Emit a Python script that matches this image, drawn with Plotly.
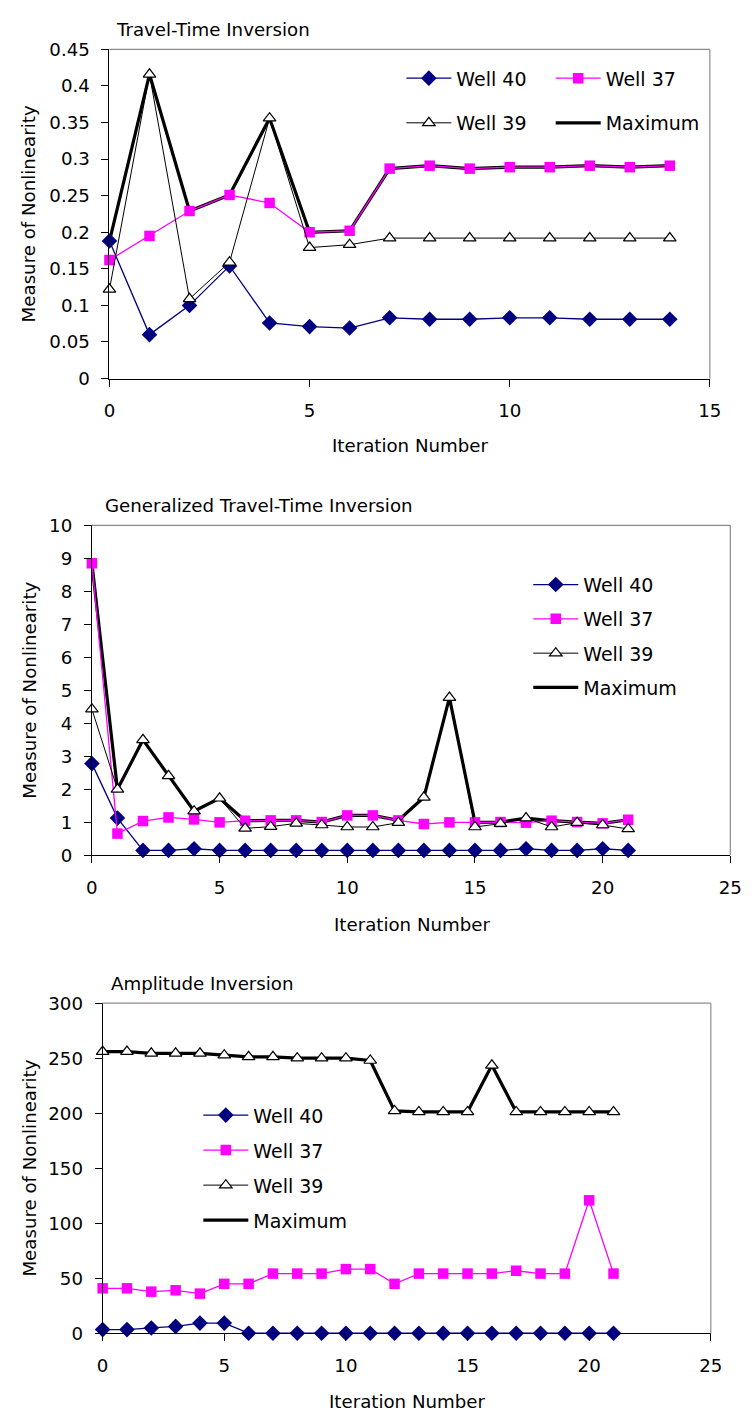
import plotly.graph_objects as go

# ---- data -------------------------------------------------------------
# Travel-time inversion (iterations 0-14)
tt_iter = list(range(15))
tt_well40 = [0.188, 0.060, 0.100, 0.154, 0.076, 0.071, 0.069, 0.083, 0.081,
             0.081, 0.083, 0.083, 0.081, 0.081, 0.081]
tt_well37 = [0.162, 0.195, 0.229, 0.251, 0.240, 0.200, 0.202, 0.287, 0.291,
             0.287, 0.289, 0.289, 0.291, 0.289, 0.291]
tt_well39 = [0.122, 0.416, 0.109, 0.159, 0.356, 0.179, 0.183, 0.192, 0.192,
             0.192, 0.192, 0.192, 0.192, 0.192, 0.192]
tt_max = [0.188, 0.416, 0.229, 0.251, 0.356, 0.200, 0.202, 0.287, 0.291,
          0.287, 0.289, 0.289, 0.291, 0.289, 0.291]

# Generalized travel-time inversion (iterations 0-21)
gt_iter = list(range(22))
gt_well40 = [2.78, 1.13, 0.15, 0.15, 0.20, 0.15, 0.15, 0.15, 0.15, 0.15, 0.15,
             0.15, 0.15, 0.15, 0.15, 0.15, 0.15, 0.20, 0.15, 0.15, 0.20, 0.15]
gt_well37 = [8.85, 0.66, 1.04, 1.15, 1.09, 1.00, 1.05, 1.06, 1.06, 1.01, 1.21,
             1.21, 1.06, 0.95, 1.00, 1.00, 1.01, 0.99, 1.05, 1.01, 0.97, 1.08]
gt_well39 = [4.43, 2.00, 3.50, 2.41, 1.34, 1.73, 0.82, 0.87, 0.97, 0.92, 0.86,
             0.86, 0.99, 1.76, 4.78, 0.86, 0.96, 1.13, 0.86, 0.99, 0.92, 0.80]
gt_max = [8.85, 2.00, 3.50, 2.41, 1.34, 1.73, 1.05, 1.06, 1.06, 1.01, 1.21,
          1.21, 1.06, 1.76, 4.78, 1.00, 1.01, 1.13, 1.05, 1.01, 0.97, 1.08]

# Amplitude inversion (iterations 0-21)
am_iter = list(range(22))
am_well40 = [3.3, 3.3, 4.8, 6.2, 9.2, 9.2, 0, 0, 0, 0, 0,
             0, 0, 0, 0, 0, 0, 0, 0, 0, 0, 0]
am_well37 = [40.8, 40.8, 37.8, 39.0, 36.0, 44.9, 44.9, 54.2, 54.2, 54.2, 58.3,
             58.3, 44.9, 54.2, 54.2, 54.2, 54.2, 56.8, 54.2, 54.2, 120.8, 54.2]
am_well39 = [256.0, 256.0, 254.4, 254.4, 254.4, 252.7, 251.2, 251.2, 250.0, 250.0, 250.0,
             247.9, 202.1, 201.2, 201.2, 201.2, 243.5, 201.2, 201.2, 201.2, 201.2, 201.2]
am_max = [256.0, 256.0, 254.4, 254.4, 254.4, 252.7, 251.2, 251.2, 250.0, 250.0, 250.0,
          247.9, 202.1, 201.2, 201.2, 201.2, 243.5, 201.2, 201.2, 201.2, 201.2, 201.2]

panel_titles = ["Travel-Time Inversion", "Generalized Travel-Time Inversion",
                "Amplitude Inversion"]
x_title = "Iteration Number"
y_title = "Measure of Nonlinearity"

# ---- layout geometry (pixels) -----------------------------------------
W, H = 756, 1425
FONT = "DejaVu Sans"
FS = 18.2
NAVY = "#000080"
MAGENTA = "#FF00FF"


def xdom(left, right):
    return [left / W, right / W]


def ydom(top, bottom):
    return [1 - bottom / H, 1 - top / H]


def px(x):
    return x / W


def py(y):
    return 1 - y / H


# (x-left, x-right, y-top, y-bottom) of each plotting area
boxes = [(106, 721, 39, 373), (88, 742, 522, 857), (99, 722, 1007, 1342)]

fig = go.Figure()


def add_panel(k, iters, w40, w37, w39, wmax, legs):
    xa = "x" if k == 1 else f"x{k}"
    ya = "y" if k == 1 else f"y{k}"
    common = dict(x=iters, xaxis=xa, yaxis=ya, cliponaxis=False)
    # thick maximum curve goes underneath the individual wells
    fig.add_trace(go.Scatter(y=wmax, name="Maximum", mode="lines",
                             line=dict(color="black", width=3.2),
                             legend=legs[3], legendrank=4, legendgroup=f"m{k}",
                             **common))
    fig.add_trace(go.Scatter(y=w40, name="Well 40", mode="lines+markers",
                             line=dict(color=NAVY, width=1.3),
                             marker=dict(symbol="diamond", size=12, color=NAVY),
                             legend=legs[0], legendrank=1, legendgroup=f"a{k}",
                             **common))
    fig.add_trace(go.Scatter(y=w37, name="Well 37", mode="lines+markers",
                             line=dict(color=MAGENTA, width=1.3),
                             marker=dict(symbol="square", size=10.5, color=MAGENTA),
                             legend=legs[1], legendrank=2, legendgroup=f"b{k}",
                             **common))
    fig.add_trace(go.Scatter(y=w39, name="Well 39", mode="lines+markers",
                             line=dict(color="black", width=1),
                             marker=dict(symbol="triangle-up", size=11, color="white",
                                         line=dict(color="black", width=1.2)),
                             legend=legs[2], legendrank=3, legendgroup=f"c{k}",
                             **common))


add_panel(1, tt_iter, tt_well40, tt_well37, tt_well39, tt_max,
          ["legend", "legend2", "legend", "legend2"])
add_panel(2, gt_iter, gt_well40, gt_well37, gt_well39, gt_max,
          ["legend3"] * 4)
add_panel(3, am_iter, am_well40, am_well37, am_well39, am_max,
          ["legend4"] * 4)

axis_font = dict(family=FONT, size=FS, color="black")
x_ranges = [[0, 15], [0, 25], [0, 25]]
y_ranges = [[0, 0.45], [0, 10], [0, 300]]
y_dticks = [0.05, 1, 50]

layout = dict(
    width=W, height=H,
    margin=dict(l=0, r=0, t=0, b=0),
    paper_bgcolor="white", plot_bgcolor="white",
    font=dict(family=FONT, size=FS, color="black"),
    showlegend=True,
    shapes=[], annotations=[],
)

for i, (l, r, t, b) in enumerate(boxes):
    k = i + 1
    xn = "xaxis" if k == 1 else f"xaxis{k}"
    yn = "yaxis" if k == 1 else f"yaxis{k}"
    ya = "y" if k == 1 else f"y{k}"
    xa = "x" if k == 1 else f"x{k}"
    layout[xn] = dict(domain=xdom(l, r), anchor=ya, range=x_ranges[i],
                      dtick=5, tick0=0, showgrid=False, zeroline=False,
                      showline=True, linecolor="black", linewidth=1,
                      ticks="outside", ticklen=7, tickcolor="black",
                      ticklabelstandoff=9, tickfont=axis_font)
    layout[yn] = dict(domain=ydom(t, b), anchor=xa, range=y_ranges[i],
                      dtick=y_dticks[i], tick0=0, showgrid=False, zeroline=False,
                      showline=True, linecolor="black", linewidth=1,
                      ticks="outside", ticklen=7, tickcolor="black",
                      ticklabelstandoff=8, tickfont=axis_font)
    # grey frame on the top and right of the plotting area
    layout["shapes"].append(dict(type="line", xref="paper", yref="paper",
                                 x0=px(l), x1=px(r), y0=py(t), y1=py(t),
                                 line=dict(color="#8c8c8c", width=1.2)))
    layout["shapes"].append(dict(type="line", xref="paper", yref="paper",
                                 x0=px(r), x1=px(r), y0=py(t), y1=py(b),
                                 line=dict(color="#8c8c8c", width=1.2)))

# panel titles
title_pos = [(111, 19), (99, 502), (105, 987)]
for txt, (x, y) in zip(panel_titles, title_pos):
    layout["annotations"].append(dict(text=txt, xref="paper", yref="paper",
                                      x=px(x), y=py(y), xanchor="left", yanchor="middle",
                                      showarrow=False, font=axis_font))

# axis titles
xt_pos = [(414, 441), (416, 927), (411, 1411)]
for (x, y) in xt_pos:
    layout["annotations"].append(dict(text=x_title, xref="paper", yref="paper",
                                      x=px(x), y=py(y), xanchor="center", yanchor="middle",
                                      showarrow=False, font=axis_font))
for (l, r, t, b) in boxes:
    layout["annotations"].append(dict(text=y_title, xref="paper", yref="paper",
                                      x=px(24), y=py((t + b) / 2), xanchor="center",
                                      yanchor="middle", textangle=-90,
                                      showarrow=False, font=axis_font))

leg_common = dict(xref="paper", yref="paper", xanchor="left", yanchor="top",
                  bgcolor="rgba(0,0,0,0)", borderwidth=0, itemwidth=45,
                  font=dict(family=FONT, size=19, color="black"),
                  orientation="v", traceorder="grouped")
layout["legend"] = dict(x=px(405), y=py(49), tracegroupgap=17, **leg_common)
layout["legend2"] = dict(x=px(558), y=py(49), tracegroupgap=17, **leg_common)
layout["legend3"] = dict(x=px(535), y=py(563), tracegroupgap=6.6, **leg_common)
layout["legend4"] = dict(x=px(197), y=py(1101.5), tracegroupgap=7.3, **leg_common)

fig.update_layout(**layout)
fig.write_html("out.html")
